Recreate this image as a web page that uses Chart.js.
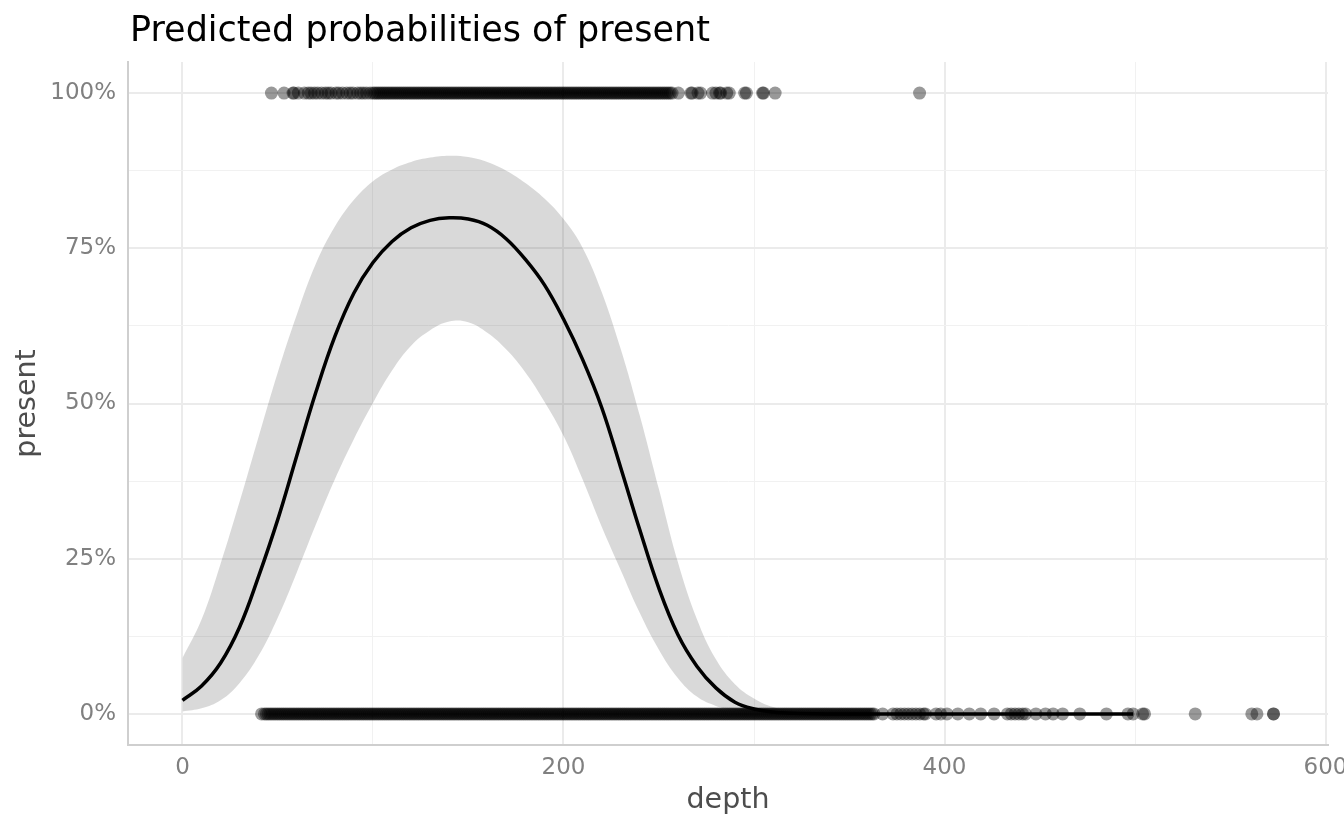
<!DOCTYPE html>
<html>
<head>
<meta charset="utf-8">
<title>Predicted probabilities of present</title>
<script src="https://cdn.jsdelivr.net/npm/chart.js@4"></script>
<style>
    html, body { margin: 0; padding: 0; background: #ffffff; }
    canvas { display: block; }
</style>
</head>
<body>
<canvas id="probChart" width="1344" height="830"></canvas>
<script>
// Prediction grid (depth) with fitted probability and confidence band
const predDepth = [0, 10, 20, 30, 40, 50, 60, 70, 80, 90, 100, 110, 120, 130, 140, 150, 160, 170, 180, 190,
    200, 210, 220, 230, 240, 250, 260, 270, 280, 290, 300, 310, 320, 340, 360, 400, 450, 499];
const predFit = [0.022, 0.045, 0.082, 0.14, 0.222, 0.313, 0.416, 0.518, 0.608, 0.678, 0.727, 0.761, 0.783, 0.795, 0.799,
    0.797, 0.787, 0.765, 0.732, 0.691, 0.636, 0.571, 0.494, 0.397, 0.297, 0.203, 0.128, 0.077, 0.042, 0.019,
    0.008, 0.003, 0.001, 0, 0, 0, 0, 0];
const predHigh = [0.09, 0.152, 0.242, 0.342, 0.447, 0.55, 0.643, 0.725, 0.785, 0.828, 0.858, 0.877, 0.889, 0.896, 0.899,
    0.897, 0.889, 0.875, 0.855, 0.83, 0.797, 0.751, 0.68, 0.588, 0.481, 0.363, 0.245, 0.153, 0.088, 0.048,
    0.025, 0.011, 0.005, 0.001, 0, 0, 0, 0];
const predLow = [0.004, 0.009, 0.022, 0.05, 0.094, 0.155, 0.228, 0.305, 0.378, 0.443, 0.501, 0.553, 0.593, 0.618, 0.632,
    0.631, 0.614, 0.587, 0.55, 0.503, 0.448, 0.378, 0.302, 0.232, 0.163, 0.104, 0.058, 0.028, 0.013, 0.006,
    0.003, 0.001, 0, 0, 0, 0, 0, 0];

// Observed depths where present = 1
const presentDepth = [46.7, 53.3, 58, 58.5, 60.8, 64, 66, 67.5, 69.3, 71, 73, 75, 76.5, 78, 80.6, 82, 84, 86.2, 88, 89.5,
    91.9, 93.5, 95, 96.6, 98.5, 100,
    101, 102, 103, 104, 105, 106, 107, 108, 109, 110, 111, 112, 113, 114, 115, 116, 117, 118, 119, 120,
    121, 122, 123, 124, 125, 126, 127, 128, 129, 130, 131, 132, 133, 134, 135, 136, 137, 138, 139, 140,
    141, 142, 143, 144, 145, 146, 147, 148, 149, 150, 151, 152, 153, 154, 155, 156, 157, 158, 159, 160,
    161, 162, 163, 164, 165, 166, 167, 168, 169, 170, 171, 172, 173, 174, 175, 176, 177, 178, 179, 180,
    181, 182, 183, 184, 185, 186, 187, 188, 189, 190, 191, 192, 193, 194, 195, 196, 197, 198, 199, 200,
    201, 202, 203, 204, 205, 206, 207, 208, 209, 210, 211, 212, 213, 214, 215, 216, 217, 218, 219, 220,
    221, 222, 223, 224, 225, 226, 227, 228, 229, 230, 231, 232, 233, 234, 235, 236, 237, 238, 239, 240,
    241, 242, 243, 244, 245, 246, 247, 248, 249, 250, 251, 252, 253, 254, 255, 256, 257,
    260.3, 266.9, 267.5, 270.6, 272, 278.2, 280, 281.9, 282.5, 285.7, 287, 295.1, 296, 304.5, 305, 311.1, 386.9];

// Observed depths where present = 0
const absentDepth = [41.5, 43, 44, 45, 46, 47, 48, 49, 50, 51, 52, 53, 54, 55, 56, 57, 58, 59, 60,
    61, 62, 63, 64, 65, 66, 67, 68, 69, 70, 71, 72, 73, 74, 75, 76, 77, 78, 79, 80,
    81, 82, 83, 84, 85, 86, 87, 88, 89, 90, 91, 92, 93, 94, 95, 96, 97, 98, 99, 100,
    101, 102, 103, 104, 105, 106, 107, 108, 109, 110, 111, 112, 113, 114, 115, 116, 117, 118, 119, 120,
    121, 122, 123, 124, 125, 126, 127, 128, 129, 130, 131, 132, 133, 134, 135, 136, 137, 138, 139, 140,
    141, 142, 143, 144, 145, 146, 147, 148, 149, 150, 151, 152, 153, 154, 155, 156, 157, 158, 159, 160,
    161, 162, 163, 164, 165, 166, 167, 168, 169, 170, 171, 172, 173, 174, 175, 176, 177, 178, 179, 180,
    181, 182, 183, 184, 185, 186, 187, 188, 189, 190, 191, 192, 193, 194, 195, 196, 197, 198, 199, 200,
    201, 202, 203, 204, 205, 206, 207, 208, 209, 210, 211, 212, 213, 214, 215, 216, 217, 218, 219, 220,
    221, 222, 223, 224, 225, 226, 227, 228, 229, 230, 231, 232, 233, 234, 235, 236, 237, 238, 239, 240,
    241, 242, 243, 244, 245, 246, 247, 248, 249, 250, 251, 252, 253, 254, 255, 256, 257, 258, 259, 260,
    261, 262, 263, 264, 265, 266, 267, 268, 269, 270, 271, 272, 273, 274, 275, 276, 277, 278, 279, 280,
    281, 282, 283, 284, 285, 286, 287, 288, 289, 290, 291, 292, 293, 294, 295, 296, 297, 298, 299, 300,
    301, 302, 303, 304, 305, 306, 307, 308, 309, 310, 311, 312, 313, 314, 315, 316, 317, 318, 319, 320,
    321, 322, 323, 324, 325, 326, 327, 328, 329, 330, 331, 332, 333, 334, 335, 336, 337, 338, 339, 340,
    341, 342, 343, 344, 345, 346, 347, 348, 349, 350, 351, 352, 353, 354, 355, 356, 357, 358, 359, 360,
    361, 362, 363, 367.5, 373, 375, 377, 379, 381, 383, 385, 387, 389, 390, 395.6, 398, 401.3,
    407, 413, 419, 426, 433, 435, 437, 439, 441, 442.6, 448, 453, 457, 462, 471, 485, 496.3, 499,
    504, 505, 531.6, 561.3, 564, 572.7, 572.7];

// Axis grid values and tick labels
const xGrid = [0, 100, 200, 300, 400, 500, 600];
const xLabels = ['0', '', '200', '', '400', '', '600'];
const yGrid = [0, 0.125, 0.25, 0.375, 0.5, 0.625, 0.75, 0.875, 1];
const yLabels = ['0%', '', '25%', '', '50%', '', '75%', '', '100%'];

const FONT = "'DejaVu Sans', sans-serif";

document.addEventListener('DOMContentLoaded', function () {
    const toPoints = (xs, ys) => xs.map((x, i) => ({ x: x, y: ys[i] }));
    const rowPoints = (xs, y) => xs.map(x => ({ x: x, y: y }));

    // Title and axis titles drawn by hand so they sit where ggplot put them
    const textPlugin = {
        id: 'ggText',
        afterDraw(chart) {
            const ctx = chart.ctx;
            const area = chart.chartArea;
            ctx.save();
            ctx.fillStyle = '#000000';
            ctx.font = '35px ' + FONT;
            ctx.textAlign = 'left';
            ctx.textBaseline = 'alphabetic';
            ctx.fillText('Predicted probabilities of present', 130, 41);

            ctx.fillStyle = '#4d4d4d';
            ctx.font = '28.5px ' + FONT;
            ctx.textAlign = 'center';
            ctx.fillText('depth', (area.left + area.right) / 2, 808);

            ctx.translate(35, (area.top + area.bottom) / 2);
            ctx.rotate(-Math.PI / 2);
            ctx.fillText('present', 0, 0);
            ctx.restore();
        }
    };

    const ctx = document.getElementById('probChart').getContext('2d');

    new Chart(ctx, {
        type: 'scatter',
        data: {
            datasets: [
                {
                    label: 'fit',
                    data: toPoints(predDepth, predFit),
                    showLine: true,
                    borderColor: '#000000',
                    borderWidth: 3.5,
                    pointRadius: 0,
                    tension: 0.4,
                    fill: false
                },
                {
                    label: 'absent',
                    data: rowPoints(absentDepth, 0),
                    pointRadius: 6.5,
                    pointBorderWidth: 0,
                    pointBackgroundColor: 'rgba(0, 0, 0, 0.4)',
                    showLine: false
                },
                {
                    label: 'present',
                    data: rowPoints(presentDepth, 1),
                    pointRadius: 6.5,
                    pointBorderWidth: 0,
                    pointBackgroundColor: 'rgba(0, 0, 0, 0.4)',
                    showLine: false
                },
                {
                    label: 'upper',
                    data: toPoints(predDepth, predHigh),
                    showLine: true,
                    borderWidth: 0,
                    borderColor: 'rgba(0, 0, 0, 0)',
                    pointRadius: 0,
                    tension: 0.4,
                    backgroundColor: 'rgba(0, 0, 0, 0.15)',
                    fill: '+1'
                },
                {
                    label: 'lower',
                    data: toPoints(predDepth, predLow),
                    showLine: true,
                    borderWidth: 0,
                    borderColor: 'rgba(0, 0, 0, 0)',
                    pointRadius: 0,
                    tension: 0.4,
                    fill: false
                }
            ]
        },
        options: {
            responsive: false,
            animation: false,
            devicePixelRatio: 1,
            layout: {
                padding: { top: 62, right: 16, left: 0, bottom: 0 }
            },
            scales: {
                x: {
                    type: 'linear',
                    min: -28.6,
                    max: 601.3,
                    afterBuildTicks: (scale) => {
                        scale.ticks = xGrid.map(v => ({ value: v }));
                    },
                    afterFit: (scale) => {
                        scale.height = 85;
                        scale.paddingLeft = 0;
                        scale.paddingRight = 0;
                    },
                    grid: {
                        drawTicks: false,
                        color: (c) => (c.tick && c.tick.value % 200 === 0) ? '#ebebeb' : '#f1f1f1',
                        lineWidth: (c) => (c.tick && c.tick.value % 200 === 0) ? 2 : 1
                    },
                    border: { display: true, color: '#cfcfcf', width: 2 },
                    ticks: {
                        autoSkip: false,
                        maxRotation: 0,
                        padding: 9,
                        color: '#808080',
                        font: { family: FONT, size: 23 },
                        callback: (value) => {
                            const i = xGrid.indexOf(value);
                            return i >= 0 ? xLabels[i] : '';
                        }
                    }
                },
                y: {
                    type: 'linear',
                    min: -0.05,
                    max: 1.05,
                    afterBuildTicks: (scale) => {
                        scale.ticks = yGrid.map(v => ({ value: v }));
                    },
                    afterFit: (scale) => {
                        scale.width = 128;
                        scale.paddingTop = 0;
                        scale.paddingBottom = 0;
                    },
                    grid: {
                        drawTicks: false,
                        color: (c) => {
                            const i = c.tick ? yGrid.indexOf(c.tick.value) : -1;
                            return (i >= 0 && yLabels[i] !== '') ? '#ebebeb' : '#f1f1f1';
                        },
                        lineWidth: (c) => {
                            const i = c.tick ? yGrid.indexOf(c.tick.value) : -1;
                            return (i >= 0 && yLabels[i] !== '') ? 2 : 1;
                        }
                    },
                    border: { display: true, color: '#cfcfcf', width: 2 },
                    ticks: {
                        autoSkip: false,
                        padding: 12,
                        color: '#808080',
                        font: { family: FONT, size: 23 },
                        callback: (value) => {
                            const i = yGrid.indexOf(value);
                            return i >= 0 ? yLabels[i] : '';
                        }
                    }
                }
            },
            plugins: {
                legend: { display: false },
                title: { display: false },
                tooltip: { enabled: false }
            }
        },
        plugins: [textPlugin]
    });
});
</script>
</body>
</html>
